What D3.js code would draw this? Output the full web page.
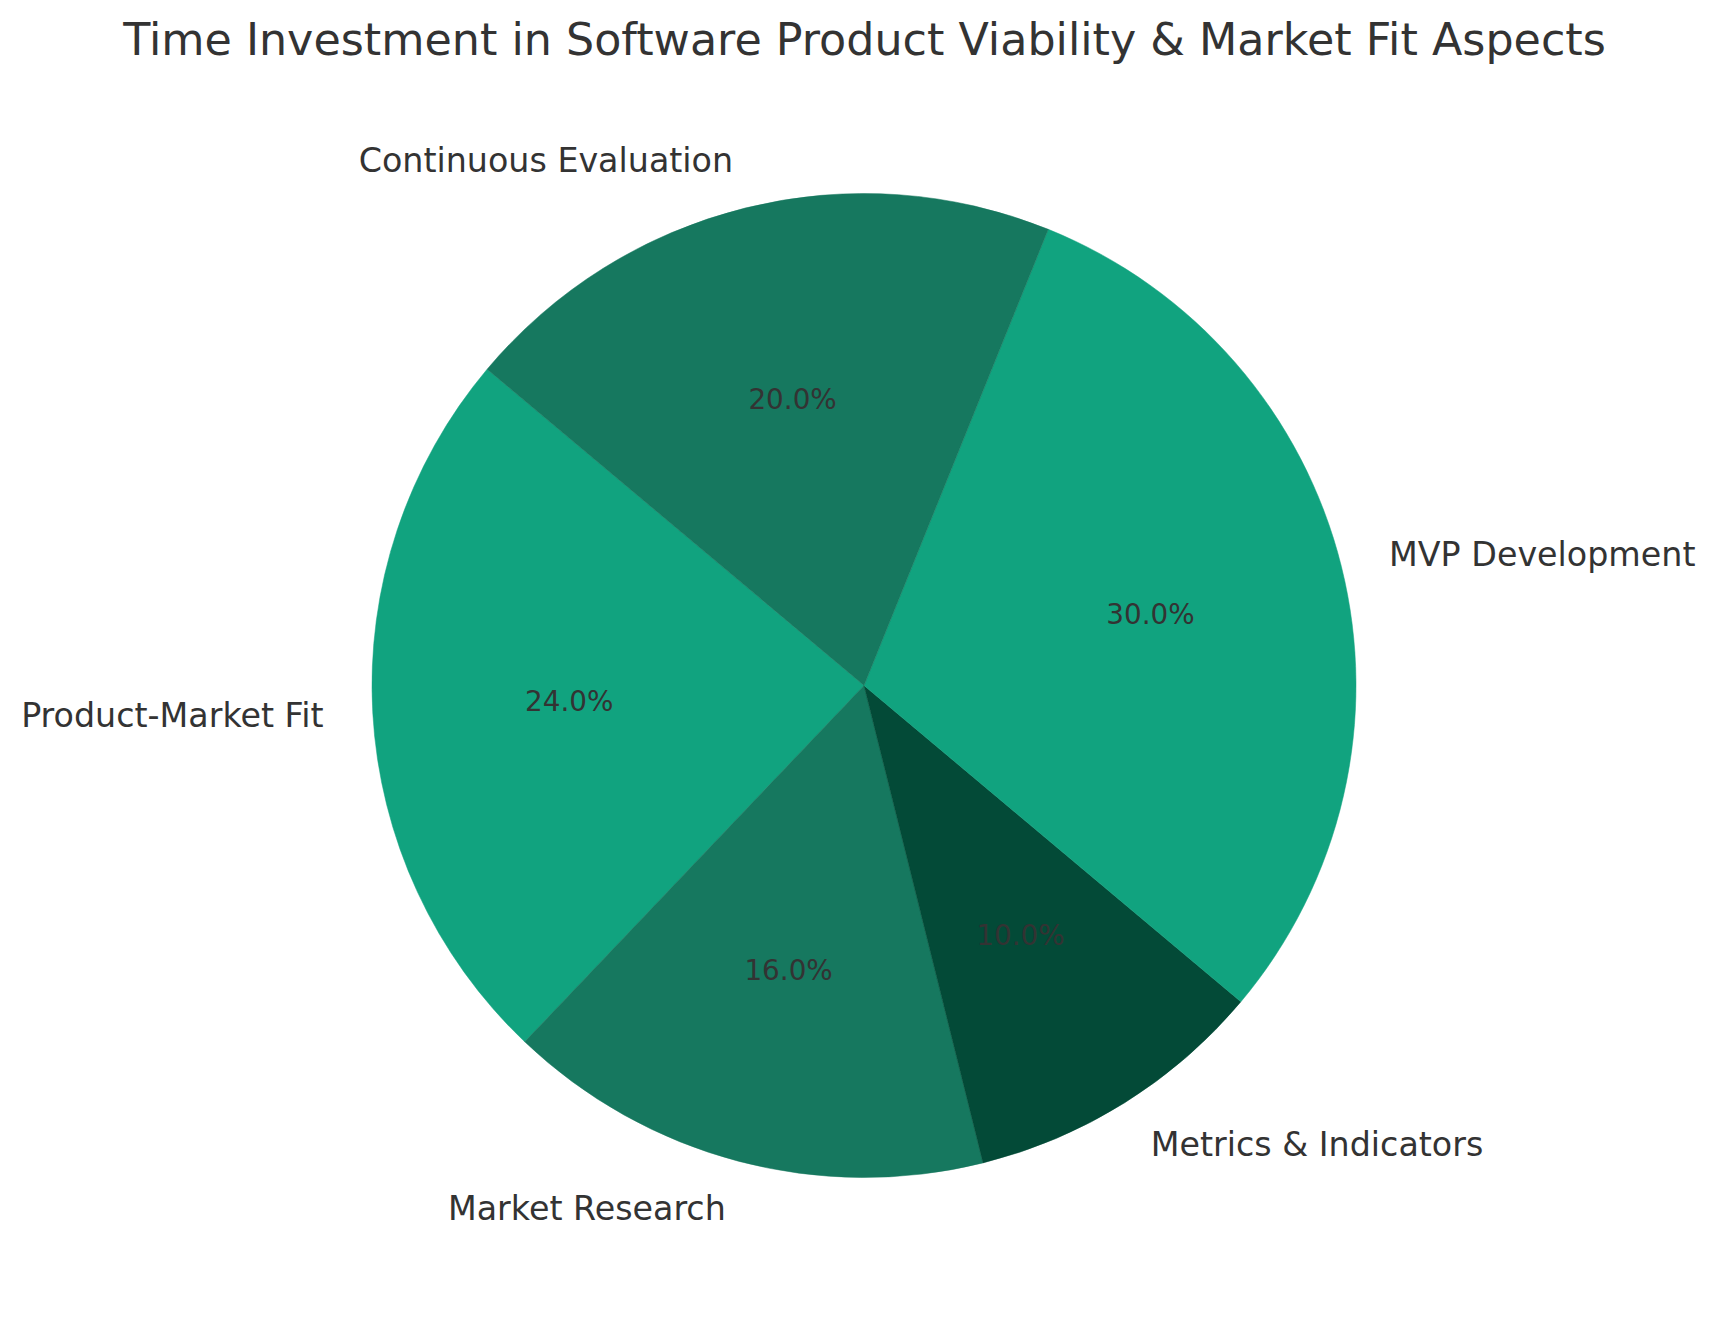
<!DOCTYPE html>
<html>
<head>
<meta charset="utf-8">
<script src="https://cdn.jsdelivr.net/npm/d3@7"></script>
<style>
  html, body { margin: 0; padding: 0; background: #fff; }
  svg { display: block; font-family: "DejaVu Sans", sans-serif; }
</style>
</head>
<body>
<svg id="chart" width="1717" height="1322"></svg>
<script>
const title = "Time Investment in Software Product Viability & Market Fit Aspects";
const categories = ["Product-Market Fit", "Market Research", "Metrics & Indicators", "MVP Development", "Continuous Evaluation"];
const values = [24, 16, 10, 30, 20];
const sliceColors = ["#11a37f", "#16785f", "#034a37", "#11a37f", "#16785f"];

const W = 1717, H = 1322;
const cx = 864, cy = 685.5, R = 492;
const startDeg = 140; // matplotlib-style start angle, counter-clockwise

const svg = d3.select("#chart");
svg.append("rect").attr("width", W).attr("height", H).attr("fill", "#fff");

svg.append("text")
  .attr("x", W / 2 + 6)
  .attr("y", 55)
  .attr("text-anchor", "middle")
  .attr("font-size", 44.4)
  .attr("fill", "#333333")
  .text(title);

const data = categories.map((c, i) => ({ cat: c, value: values[i], color: sliceColors[i] }));
const a0 = (90 - startDeg) * Math.PI / 180;
const pie = d3.pie().value(d => d.value).sort(null)
  .startAngle(a0).endAngle(a0 - 2 * Math.PI);
const arcs = pie(data);
const arc = d3.arc().innerRadius(0).outerRadius(R);

const g = svg.append("g").attr("transform", `translate(${cx},${cy})`);
g.selectAll("path.slice").data(arcs).join("path")
  .attr("class", "slice")
  .attr("d", arc)
  .attr("fill", d => d.data.color)
  .attr("stroke", d => d.data.color)
  .attr("stroke-width", 0.5);

const total = d3.sum(values);
const fmt = d3.format(".1f");

g.selectAll("text.pct").data(arcs).join("text")
  .attr("class", "pct")
  .attr("x", d => Math.sin((d.startAngle + d.endAngle) / 2) * R * 0.6)
  .attr("y", d => -Math.cos((d.startAngle + d.endAngle) / 2) * R * 0.6)
  .attr("text-anchor", "middle")
  .attr("dominant-baseline", "central")
  .attr("font-size", 27.8)
  .attr("fill", "#333333")
  .text(d => fmt(d.data.value / total * 100) + "%");

g.selectAll("text.lbl").data(arcs).join("text")
  .attr("class", "lbl")
  .attr("x", d => Math.sin((d.startAngle + d.endAngle) / 2) * R * 1.1)
  .attr("y", d => -Math.cos((d.startAngle + d.endAngle) / 2) * R * 1.1)
  .attr("text-anchor", d => Math.sin((d.startAngle + d.endAngle) / 2) > 0 ? "start" : "end")
  .attr("dominant-baseline", "central")
  .attr("font-size", 33.3)
  .attr("fill", "#333333")
  .text(d => d.data.cat);
</script>
</body>
</html>
